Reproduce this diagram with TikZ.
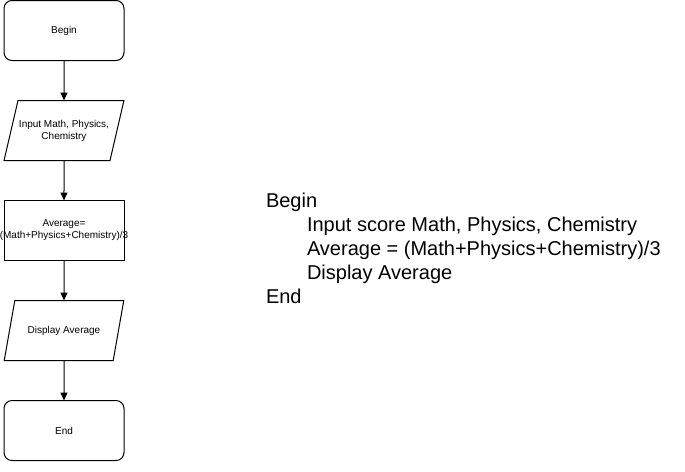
\documentclass[tikz,border=0pt]{standalone}
\usepackage{fontspec}
\setmainfont{Liberation Sans}
\usetikzlibrary{arrows.meta,positioning,shapes.geometric}

\begin{document}
\begin{tikzpicture}[
  x=1pt, y=-1pt,
  node distance=40pt,
  line width=1pt,
  every node/.style={font=\fontsize{10}{12}\selectfont, outer sep=0pt},
  terminal/.style={draw, rounded corners=8pt, align=center, minimum width=120pt, minimum height=60pt},
  process/.style={draw, align=center, minimum width=120pt, minimum height=60pt},
  io/.style={draw, trapezium, trapezium left angle=64, trapezium right angle=116, trapezium stretches=true, align=center, inner xsep=0pt, minimum width=120pt, minimum height=60pt},
  code/.style={anchor=base west, inner sep=0pt, font=\fontsize{20}{24}\selectfont},
  arrow/.style={-{Triangle[length=8pt,width=7pt]}}
]
\useasboundingbox (0,0) rectangle (685,471);
\node[terminal] (begin) at (64,30.5) {Begin};
\node[io, below=of begin] (input) {Input Math, Physics,\\Chemistry};
\node[process, below=of input] (average) {Average=\\\makebox[0pt]{(Math+Physics+Chemistry)/3}};
\node[io, below=of average] (display) {Display Average};
\node[terminal, below=of display] (finish) {End};

\draw[arrow] (begin) -- (input);
\draw[arrow] (input) -- (average);
\draw[arrow] (average) -- (display);
\draw[arrow] (display) -- (finish);

\node[code] (codebegin) at (266,207) {Begin};
\node[code] (codeinput) at (307,231) {Input score Math, Physics, Chemistry};
\node[code] (codeaverage) at (307,255) {Average = (Math+Physics+Chemistry)/3};
\node[code] (codedisplay) at (307,279) {Display Average};
\node[code] (codeend) at (266,303) {End};
\end{tikzpicture}
\end{document}
